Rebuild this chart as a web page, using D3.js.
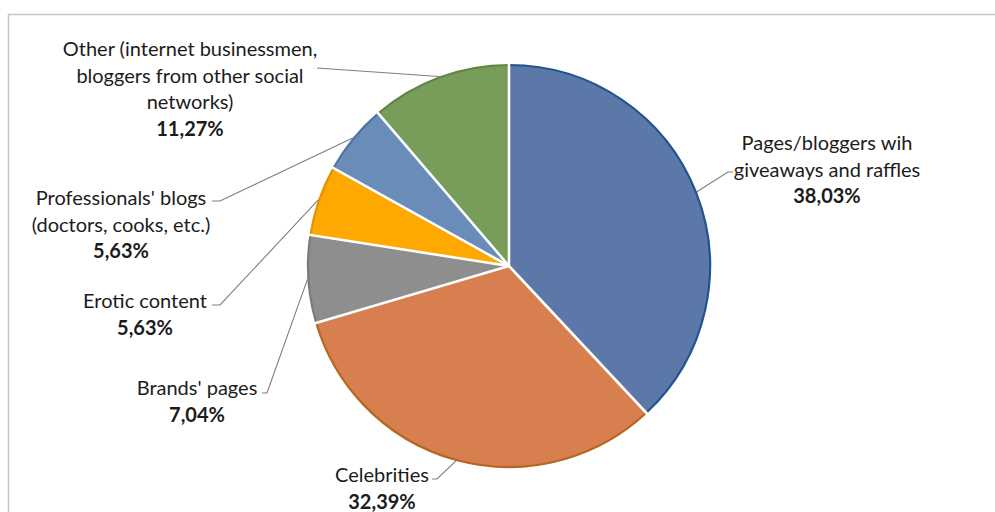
<!DOCTYPE html>
<html>
<head>
<meta charset="utf-8">
<script src="https://cdn.jsdelivr.net/npm/d3@7"></script>
<style>
  html, body { margin: 0; padding: 0; background: #fff; }
  svg { display: block; }
</style>
</head>
<body>
<svg id="chart" width="995" height="512"></svg>
<script>
// ── Datos ──
const categories = [
  "Pages/bloggers wih giveaways and raffles",
  "Celebrities",
  "Brands' pages",
  "Erotic content",
  "Professionals' blogs (doctors, cooks, etc.)",
  "Other (internet businessmen, bloggers from other social networks)"
];
const values = [38.03, 32.39, 7.04, 5.63, 5.63, 11.27];
// cómo se parte cada etiqueta en líneas
const labelLines = [
  ["Pages/bloggers wih", "giveaways and raffles"],
  ["Celebrities"],
  ["Brands' pages"],
  ["Erotic content"],
  ["Professionals' blogs", "(doctors, cooks, etc.)"],
  ["Other (internet businessmen,", "bloggers from other social", "networks)"]
];

// ── Estilos y layout ──
const fills   = ["#5b78a8", "#d77f4e", "#8e8e8e", "#ffa800", "#6a8cb9", "#789d5b"];
const borders = ["#24548d", "#b5671f", "#7a7a7a", "#e09400", "#4f74a6", "#5e8541"];
// posición de cada etiqueta (centro x, y de la primera línea) y codo de la guía
const labelPos = [
  { x: 827, y: 142, elbow: [728, 172], hook: 5 },
  { x: 382, y: 474, elbow: [437, 479], hook: -5 },
  { x: 197, y: 387, elbow: [267, 393], hook: -5 },
  { x: 145, y: 300, elbow: [220, 305], hook: -8 },
  { x: 121, y: 197, elbow: [220, 201], hook: -8 },
  { x: 190, y: 48,  elbow: [317, 68],  hook: 0 }
];

const W = 995, H = 512;
const cx = 509, cy = 266, R = 201;
const LINE_H = 26.5;
const FONT = "Lato, 'Open Sans', sans-serif";

const loc = d3.formatLocale({ decimal: ",", thousands: ".", grouping: [3], currency: ["", ""] });
const fmtPct = v => loc.format(".2f")(v) + "%";

const svg = d3.select("#chart");

// marco del área del gráfico
svg.append("rect")
  .attr("x", 8.5).attr("y", 14.5)
  .attr("width", W + 20).attr("height", H + 20)
  .attr("fill", "none").attr("stroke", "#c6c6c6").attr("stroke-width", 1.5);

const data = values.map((v, i) => ({ name: categories[i], value: v, i }));

const pie = d3.pie().value(d => d.value).sort(null);
const arcs = pie(data);

const arc = d3.arc().innerRadius(0).outerRadius(R);

const g = svg.append("g").attr("transform", `translate(${cx},${cy})`);

// ── Porciones ──
g.selectAll("path.slice")
  .data(arcs).join("path")
  .attr("class", "slice")
  .attr("d", arc)
  .attr("fill", d => fills[d.data.i])
  .attr("stroke", d => borders[d.data.i])
  .attr("stroke-width", 2.2)
  .attr("stroke-linejoin", "round");

// separadores blancos entre porciones
g.selectAll("line.sep")
  .data(arcs).join("line")
  .attr("class", "sep")
  .attr("x1", 0).attr("y1", 0)
  .attr("x2", d => Math.sin(d.startAngle) * (R + 3))
  .attr("y2", d => -Math.cos(d.startAngle) * (R + 3))
  .attr("stroke", "#fff").attr("stroke-width", 2.6);

// ── Guías ──
const edgePoint = d => {
  const a = (d.startAngle + d.endAngle) / 2;
  return [cx + Math.sin(a) * (R + 1), cy - Math.cos(a) * (R + 1)];
};

svg.append("g").selectAll("polyline")
  .data(arcs).join("polyline")
  .attr("points", d => {
    const p = labelPos[d.data.i];
    const s = edgePoint(d);
    const pts = [s, p.elbow];
    if (p.hook) pts.push([p.elbow[0] + p.hook, p.elbow[1]]);
    return pts.map(q => q.join(",")).join(" ");
  })
  .attr("fill", "none").attr("stroke", "#7f7f7f").attr("stroke-width", 1.1);

// ── Etiquetas ──
const labels = svg.append("g").selectAll("text")
  .data(arcs).join("text")
  .attr("text-anchor", "middle")
  .attr("font-family", FONT)
  .attr("font-size", 20)
  .attr("fill", "#1c1c1c");

labels.each(function(d) {
  const p = labelPos[d.data.i];
  const lines = labelLines[d.data.i];
  const t = d3.select(this);
  lines.forEach((ln, k) => {
    t.append("tspan")
      .attr("x", p.x).attr("y", p.y + k * LINE_H)
      .attr("dominant-baseline", "central")
      .text(ln);
  });
  t.append("tspan")
    .attr("x", p.x).attr("y", p.y + lines.length * LINE_H)
    .attr("dominant-baseline", "central")
    .attr("font-weight", "bold")
    .text(fmtPct(d.data.value));
});
</script>
</body>
</html>
